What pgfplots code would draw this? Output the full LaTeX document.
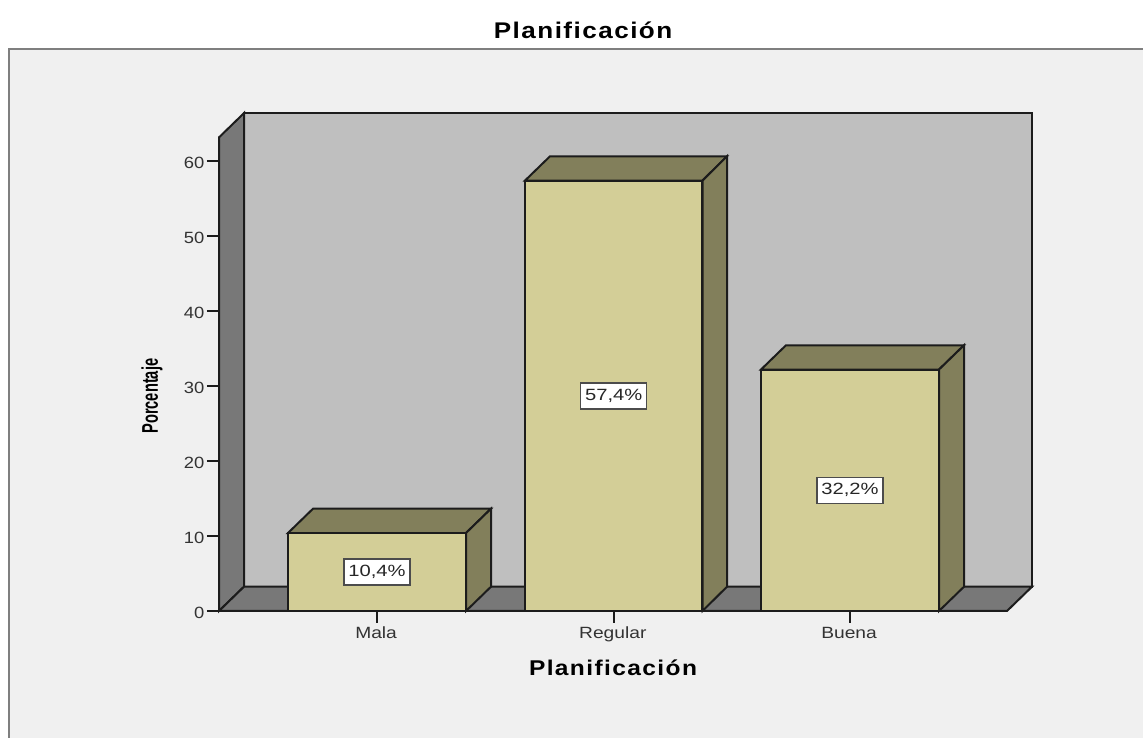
\documentclass[border=0pt]{standalone}
\usepackage{fontspec}
\usepackage{pgfplots}
\usepackage{pgfplotstable}
\pgfplotsset{compat=1.18}
\setmainfont{Liberation Sans}
\newfontfamily\ticksfont[FakeStretch=1.13]{Liberation Sans}
\newfontfamily\catfont[FakeStretch=1.18]{Liberation Sans}
\newfontfamily\valuefont[FakeStretch=1.24]{Liberation Sans}
\newfontfamily\headfont[FakeStretch=1.15,LetterSpace=6.5]{Liberation Sans Bold}
\newfontfamily\sidefont[FakeStretch=0.646]{Liberation Sans Bold}

\definecolor{panel}{HTML}{F0F0F0}
\definecolor{frameline}{HTML}{7F7F7F}
\definecolor{wallback}{HTML}{BFBFBF}
\definecolor{wallside}{HTML}{787878}
\definecolor{barfront}{HTML}{D3CE97}
\definecolor{barshade}{HTML}{827F5B}
\definecolor{edge}{HTML}{1C1C1C}

% bar positions on a horizontal scale of image units, heights in percent
\pgfplotstableread{
x      v     lab
377    10.4  {10,4\%}
613.75 57.4  {57,4\%}
850    32.2  {32,2\%}
}\planif

\begin{document}
\begin{tikzpicture}[x=0.75pt,y=0.75pt]
\useasboundingbox (0,0) rectangle (1143,738);
\fill[white] (0,0) rectangle (1143,738);
\fill[panel] (9,0) rectangle (1143,689);
\draw[frameline,line width=1.7pt] (9,0) -- (9,689) -- (1143,689);
\begin{axis}[
  at={(164.25pt,95.25pt)}, anchor=south west,
  scale only axis, width=591pt, height=355.2pt,
  xmin=219, xmax=1007, ymin=0, ymax=63.16,
  clip=false,
  axis x line=bottom, axis y line=left,
  axis line style={-,draw=edge,line width=1.5pt},
  xtick={377,613.75,850},
  xticklabels={Mala,Regular,Buena},
  ytick={0,10,...,60},
  tick style={draw=edge,line width=1.3pt},
  major tick length=9pt,
  tick align=outside,
  /pgf/number format/assume math mode=true,
  yticklabel style={font=\ticksfont\fontsize{12.2}{14}\selectfont,text=black!80,xshift=1.5pt,yshift=-1.5pt},
  xticklabel style={font=\catfont\fontsize{12.2}{14}\selectfont,text=black!80,
    text height=9pt,text depth=2.5pt,yshift=1pt,xshift=-0.7pt},
  title={Planificación},
  title style={at={(axis description cs:0.462,1.209)},anchor=center,font=\headfont\fontsize{17}{20}\selectfont},
  xlabel={Planificación},
  xlabel style={at={(axis description cs:0.5,-0.12)},anchor=center,font=\headfont\fontsize{16}{19}\selectfont},
  ylabel={Porcentaje},
  ylabel style={at={(axis description cs:-0.085,0.4536)},anchor=center,font=\sidefont\fontsize{17}{20}\selectfont},
]
% back wall, left wall and floor
\addplot[fill=wallback,draw=edge,line width=1.5pt] coordinates {(244,3.24) (244,66.4) (1032,66.4) (1032,3.24)} --cycle;
\addplot[fill=wallside,draw=edge,line width=1.5pt] coordinates {(219,0) (219,63.16) (244,66.4) (244,3.24)} --cycle;
\addplot[fill=wallside,draw=edge,line width=1.5pt] coordinates {(219,0) (244,3.24) (1032,3.24) (1007,0)} --cycle;

% top and side faces of the bars
\addplot[fill=barshade,draw=edge,line width=1.5pt] coordinates {(288,10.4) (313,13.64) (491,13.64) (466,10.4)} --cycle;
\addplot[fill=barshade,draw=edge,line width=1.5pt] coordinates {(466,0) (491,3.24) (491,13.64) (466,10.4)} --cycle;
\addplot[fill=barshade,draw=edge,line width=1.5pt] coordinates {(525,57.4) (550,60.64) (727,60.64) (702.5,57.4)} --cycle;
\addplot[fill=barshade,draw=edge,line width=1.5pt] coordinates {(702.5,0) (727,3.24) (727,60.64) (702.5,57.4)} --cycle;
\addplot[fill=barshade,draw=edge,line width=1.5pt] coordinates {(761,32.2) (786,35.44) (964,35.44) (939,32.2)} --cycle;
\addplot[fill=barshade,draw=edge,line width=1.5pt] coordinates {(939,0) (964,3.24) (964,35.44) (939,32.2)} --cycle;

% front faces
\addplot[ybar,bar width=133pt,bar shift=0pt,fill=barfront,draw=edge,line width=1.5pt]
  table[x=x,y=v] {\planif};

% value labels halfway up each bar
\addplot[draw=none,mark=none,
  point meta=explicit symbolic,
  nodes near coords,
  every node near coord/.style={anchor=center,fill=white,draw=black!70,line width=1.1pt,
    font=\valuefont\fontsize{12.2}{14}\selectfont,text=black!85,
    inner sep=0pt,minimum width=49.5pt,minimum height=19.5pt}]
  table[x=x,y expr=\thisrow{v}/2,meta=lab] {\planif};
\end{axis}
\end{tikzpicture}
\end{document}
